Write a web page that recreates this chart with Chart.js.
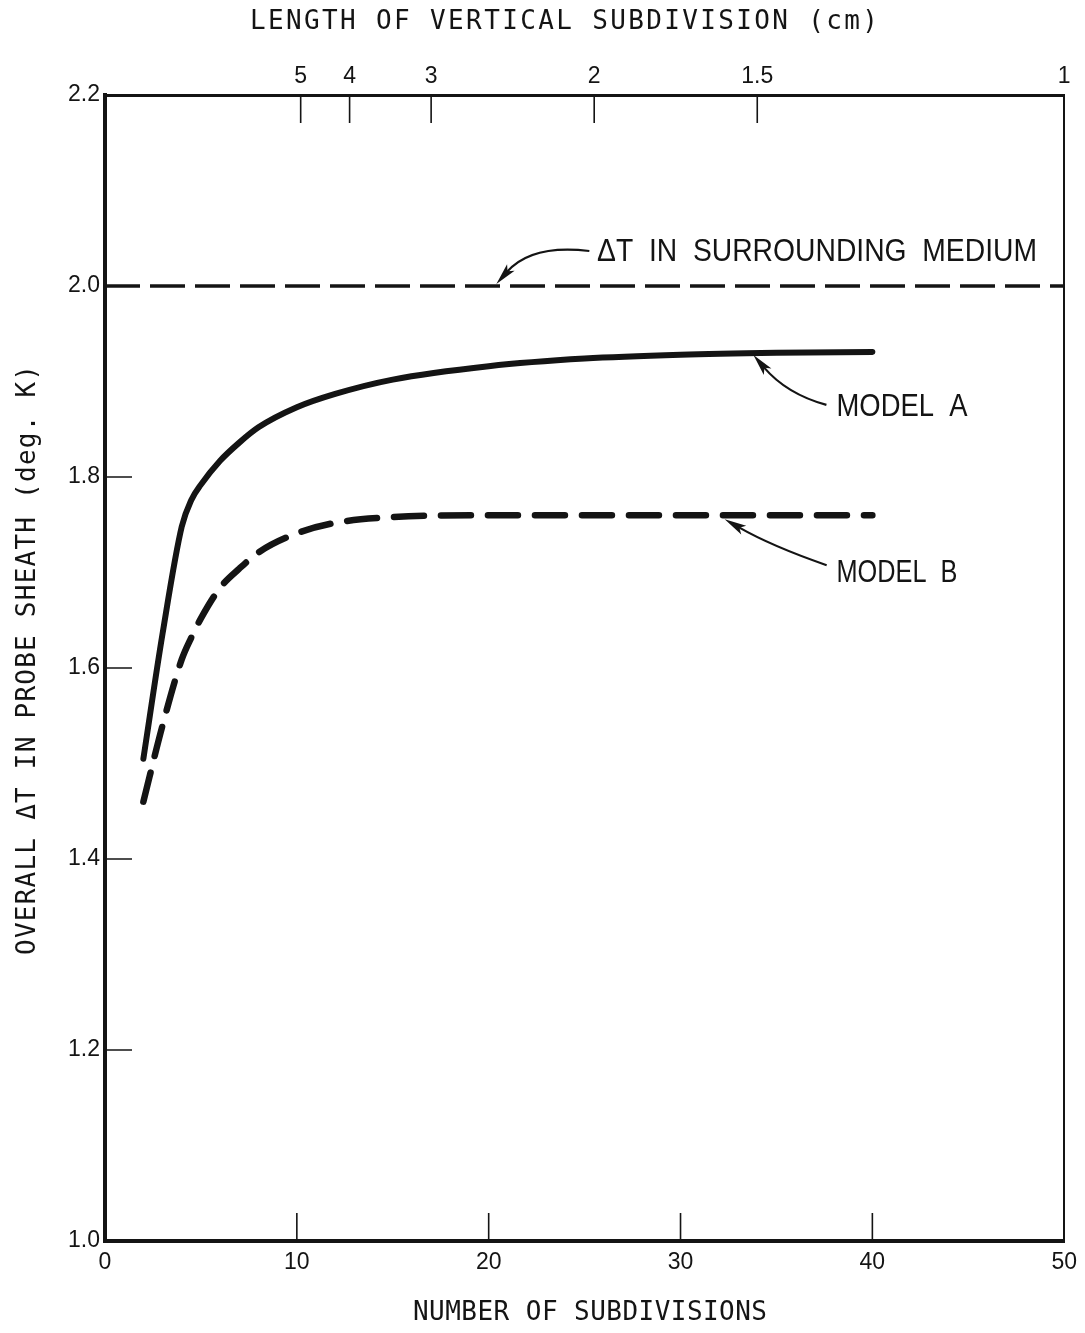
<!DOCTYPE html>
<html>
<head>
<meta charset="utf-8">
<script src="https://cdn.jsdelivr.net/npm/chart.js@4.4.1/dist/chart.umd.min.js"></script>
<style>
  html, body { margin: 0; padding: 0; background: #fff; }
  #wrap { width: 1085px; height: 1333px; }
</style>
</head>
<body>
<div id="wrap"><canvas id="sheathChart" width="1085" height="1333"></canvas></div>
<script>
// number of subdivisions along the probe
const subdivisions = [2, 3, 4, 4.5, 5, 6, 7, 8, 10, 12, 15, 20, 25, 30, 35, 40];
// overall delta T in the probe sheath (deg. K)
const modelA = [1.505, 1.636, 1.748, 1.776, 1.792, 1.817, 1.836, 1.852, 1.873, 1.887, 1.902, 1.916, 1.924, 1.928, 1.930, 1.931];
const modelB = [1.46, 1.54, 1.609, 1.632, 1.652, 1.684, 1.704, 1.721, 1.741, 1.752, 1.758, 1.760, 1.760, 1.760, 1.760, 1.760];
// delta T in the surrounding medium
const mediumDT = 2.0;
const mediumSpan = [0, 50];

// axis ticks
const xTicks = [0, 10, 20, 30, 40, 50];
const yTicks = [1.0, 1.2, 1.4, 1.6, 1.8, 2.0, 2.2];
// top axis: length of one vertical subdivision (cm), placed at its N value
const lengthLabels = ['5', '4', '3', '2', '1.5', '1'];
const lengthAtN = [10.2, 12.75, 17, 25.5, 34, 50];

const INK = '#141414';
const numFont = { family: '"Liberation Sans", Arial, sans-serif', size: 23 };
const monoFamily = '"DejaVu Sans Mono", monospace';
const sansFamily = '"Liberation Sans", Arial, sans-serif';

const toPoints = (xs, ys) => xs.map((x, i) => ({ x: x, y: ys[i] }));

// text helper: mode 'spread' widens letter spacing, 'scale' squeezes glyphs
function drawText(ctx, text, x, y, opts) {
  const { font, width, mode = 'scale', angle = 0 } = opts;
  ctx.save();
  ctx.translate(x, y);
  if (angle) ctx.rotate(angle);
  ctx.font = font;
  ctx.fillStyle = INK;
  ctx.textBaseline = 'middle';
  ctx.textAlign = 'left';
  const w0 = ctx.measureText(text).width;
  if (mode === 'spread') {
    const gap = (width - w0) / (text.length - 1);
    ctx.letterSpacing = gap + 'px';
    ctx.fillText(text, -width / 2, 0);
  } else {
    const sx = width / w0;
    ctx.scale(sx, 1);
    ctx.fillText(text, -w0 / 2, 0);
  }
  ctx.restore();
}

// curved leader with a filled head; tip is a data point, the rest are pixel offsets
function drawArrow(ctx, tx, ty, ctrl, tail) {
  const cx = tx + ctrl[0], cy = ty + ctrl[1];
  const ex = tx + tail[0], ey = ty + tail[1];
  const ang = Math.atan2(ty - cy, tx - cx);
  const len = 22, half = 5;
  const bx = tx - Math.cos(ang) * len, by = ty - Math.sin(ang) * len;
  ctx.save();
  ctx.strokeStyle = INK;
  ctx.fillStyle = INK;
  ctx.lineWidth = 2.2;
  ctx.beginPath();
  ctx.moveTo(ex, ey);
  ctx.quadraticCurveTo(cx, cy, bx + Math.cos(ang) * 6, by + Math.sin(ang) * 6);
  ctx.stroke();
  ctx.beginPath();
  ctx.moveTo(tx, ty);
  ctx.lineTo(bx + Math.sin(ang) * half, by - Math.cos(ang) * half);
  ctx.lineTo(bx + Math.cos(ang) * 5, by + Math.sin(ang) * 5);
  ctx.lineTo(bx - Math.sin(ang) * half, by + Math.cos(ang) * half);
  ctx.closePath();
  ctx.fill();
  ctx.restore();
}

const sheathDecor = {
  id: 'sheathDecor',
  afterDraw(chart) {
    const ctx = chart.ctx;
    const { left, right, top, bottom } = chart.chartArea;
    const sx = chart.scales.x, sy = chart.scales.y, st = chart.scales.xTop;

    // tick marks pointing into the plot
    ctx.save();
    ctx.strokeStyle = INK;
    ctx.lineWidth = 1.6;
    ctx.beginPath();
    sx.ticks.forEach(t => {
      if (t.value <= 0 || t.value >= 50) return;
      const px = sx.getPixelForValue(t.value);
      ctx.moveTo(px, bottom); ctx.lineTo(px, bottom - 28);
    });
    sy.ticks.forEach(t => {
      if (t.value <= 1.0 || t.value >= 2.2) return;
      const py = sy.getPixelForValue(t.value);
      ctx.moveTo(left, py); ctx.lineTo(left + 27, py);
    });
    st.ticks.forEach(t => {
      if (t.value >= 50) return;
      const px = st.getPixelForValue(t.value);
      ctx.moveTo(px, top); ctx.lineTo(px, top + 28);
    });
    ctx.stroke();
    ctx.restore();

    // axis titles
    drawText(ctx, 'LENGTH OF VERTICAL SUBDIVISION (cm)', 564, 22,
      { font: '26px ' + monoFamily, width: 628, mode: 'spread' });
    drawText(ctx, 'NUMBER OF SUBDIVISIONS', 590, 1313,
      { font: '26px ' + monoFamily, width: 354, mode: 'spread' });
    drawText(ctx, 'OVERALL \u0394T IN PROBE SHEATH (deg. K)', 28, 660,
      { font: '26px ' + monoFamily, width: 590, mode: 'spread', angle: -Math.PI / 2 });

    // curve labels and leaders
    drawText(ctx, '\u0394T  IN  SURROUNDING  MEDIUM', 817, 252,
      { font: '32px ' + sansFamily, width: 440 });
    drawText(ctx, 'MODEL  A', 902, 407, { font: '32px ' + sansFamily, width: 131 });
    drawText(ctx, 'MODEL  B', 897, 573, { font: '32px ' + sansFamily, width: 121 });

    const mx = sx.getPixelForValue(20.4), my = sy.getPixelForValue(mediumDT) - 2;
    drawArrow(ctx, mx, my, [35, -40], [93, -33]);
    const ax = sx.getPixelForValue(33.8), ay = sy.getPixelForValue(modelA[modelA.length - 1]) + 3;
    drawArrow(ctx, ax, ay, [33, 39], [73, 50]);
    const bx = sx.getPixelForValue(32.3), by = sy.getPixelForValue(modelB[modelB.length - 1]) + 4;
    drawArrow(ctx, bx, by, [47, 27], [102, 46]);
  }
};

const config = {
  type: 'line',
  data: {
    datasets: [
      {
        label: 'dT in surrounding medium',
        data: mediumSpan.map(x => ({ x: x, y: mediumDT })),
        xAxisID: 'x', yAxisID: 'y',
        borderColor: INK,
        borderWidth: 3.5,
        borderDash: [35, 10],
        pointRadius: 0
      },
      {
        label: 'Model A',
        data: toPoints(subdivisions, modelA),
        xAxisID: 'x', yAxisID: 'y',
        borderColor: INK,
        borderWidth: 6,
        borderCapStyle: 'round',
        cubicInterpolationMode: 'monotone',
        pointRadius: 0
      },
      {
        label: 'Model B',
        data: toPoints(subdivisions, modelB),
        xAxisID: 'x', yAxisID: 'y',
        borderColor: INK,
        borderWidth: 6.5,
        borderDash: [30, 17],
        borderCapStyle: 'round',
        cubicInterpolationMode: 'monotone',
        pointRadius: 0
      }
    ]
  },
  options: {
    responsive: false,
    animation: false,
    events: [],
    layout: { padding: 0 },
    plugins: {
      legend: { display: false },
      tooltip: { enabled: false }
    },
    scales: {
      x: {
        type: 'linear', position: 'bottom', min: 0, max: 50,
        afterBuildTicks: s => { s.ticks = xTicks.map(v => ({ value: v })); },
        afterFit: s => { s.height = 92; },
        grid: { display: false, drawTicks: false },
        border: { display: true, color: INK, width: 4 },
        ticks: { color: INK, font: numFont, padding: 8, autoSkip: false, maxRotation: 0 }
      },
      xTop: {
        type: 'linear', position: 'top', min: 0, max: 50,
        afterBuildTicks: s => { s.ticks = lengthAtN.map(v => ({ value: v })); },
        afterFit: s => { s.height = 95; },
        grid: { display: false, drawTicks: false },
        border: { display: true, color: INK, width: 3 },
        ticks: {
          color: INK, font: numFont, padding: 5, autoSkip: false, maxRotation: 0,
          callback: (v, i) => lengthLabels[i]
        }
      },
      y: {
        type: 'linear', position: 'left', min: 1.0, max: 2.2,
        afterBuildTicks: s => { s.ticks = yTicks.map(v => ({ value: v })); },
        afterFit: s => { s.width = 105; },
        grid: { display: false, drawTicks: false },
        border: { display: true, color: INK, width: 4 },
        ticks: { color: INK, font: numFont, padding: 5, callback: v => v.toFixed(1) }
      },
      yRight: {
        type: 'linear', position: 'right', min: 1.0, max: 2.2,
        afterFit: s => { s.width = 15; },
        grid: { display: false, drawTicks: false },
        border: { display: true, color: INK, width: 2 },
        ticks: { display: false }
      }
    }
  },
  plugins: [sheathDecor]
};

const sheathChart = new Chart(document.getElementById('sheathChart'), config);
</script>
</body>
</html>
